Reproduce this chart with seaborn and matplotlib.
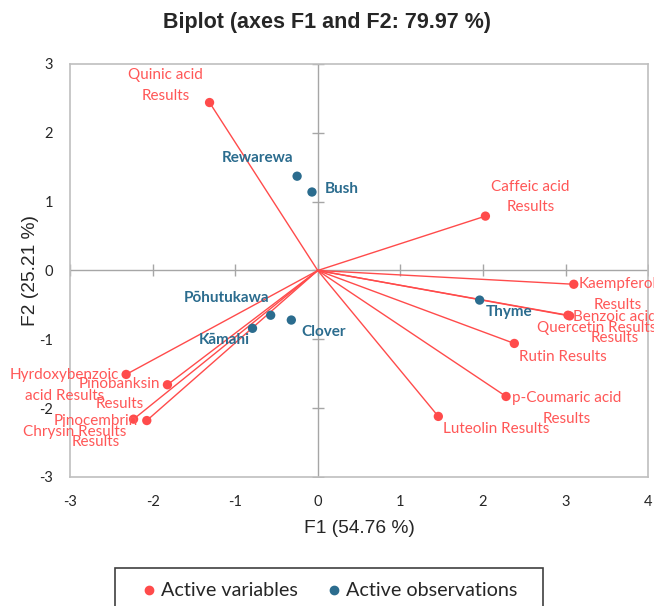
import matplotlib
matplotlib.use('Agg')
import matplotlib.pyplot as plt
import seaborn as sns
import numpy as np
import pandas as pd
from matplotlib.lines import Line2D
from matplotlib.patches import Rectangle

# Variables (loadings scaled) - F1, F2
var_names = ['Quinic acid\nResults', 'Caffeic acid\nResults', 'Kaempferol\nResults',
             'Benzoic acid\nResults', 'Quercetin Results', 'Rutin Results',
             'p-Coumaric acid\nResults', 'Luteolin Results', 'Hyrdoxybenzoic\nacid Results',
             'Pinobanksin\nResults', 'Pinocembrin\nResults', 'Chrysin Results']
var_f1 = [-1.31, 2.03, 3.10, 3.03, 3.05, 2.38, 2.28, 1.46, -2.32, -1.82, -2.23, -2.07]
var_f2 = [2.44, 0.79, -0.20, -0.65, -0.66, -1.06, -1.83, -2.12, -1.51, -1.66, -2.16, -2.18]

# Observations
obs_names = ['Rewarewa', 'Bush', 'Thyme', 'Pōhutukawa', 'Kāmahi', 'Clover']
obs_f1 = [-0.25, -0.07, 1.96, -0.57, -0.79, -0.32]
obs_f2 = [1.37, 1.14, -0.43, -0.65, -0.84, -0.72]

# label offsets in pixels (dx, dy, ha, va)
var_offsets = [(-44, 0, 'center', 'bottom'), (45, 2, 'center', 'bottom'),
               (44, 7, 'center', 'top'), (47, 5, 'center', 'top'),
               (-33, -5, 'left', 'top'), (5, -7, 'left', 'top'),
               (61, 5, 'center', 'top'), (5, -6, 'left', 'top'),
               (-62, 6, 'center', 'top'), (-48, 8, 'center', 'top'),
               (-38, 5, 'center', 'top'), (-20, -4, 'right', 'top')]
obs_offsets = [(-40, 11, 'center', 'bottom'), (13, 3, 'left', 'center'),
               (6, -5, 'left', 'top'), (-1, 10, 'right', 'bottom'),
               (-3, -5, 'right', 'top'), (10, -5, 'left', 'top')]

red = '#FF4B4B'
red_txt = '#FF5757'
blue = '#2B6C8E'
gray = '#A6A6A6'

sns.set_style('white')
plt.rcParams['font.family'] = ['Liberation Sans', 'DejaVu Sans']
plt.rcParams['axes.unicode_minus'] = False

df_var = pd.DataFrame({'F1': var_f1, 'F2': var_f2, 'name': var_names})
df_obs = pd.DataFrame({'F1': obs_f1, 'F2': obs_f2, 'name': obs_names})

fig = plt.figure(figsize=(6.54, 6.06), dpi=100)
ax = fig.add_axes([0.107, 0.2129, 0.884, 0.6815])

# vectors from origin
for x, y in zip(var_f1, var_f2):
    ax.plot([0, x], [0, y], color=red, lw=1.0, zorder=2)

ax.axhline(0, color=gray, lw=1.0, zorder=1)
ax.axvline(0, color=gray, lw=1.0, zorder=1)

sns.scatterplot(data=df_var, x='F1', y='F2', color=red, s=45, edgecolor='none', ax=ax, zorder=3)
sns.scatterplot(data=df_obs, x='F1', y='F2', color=blue, s=45, edgecolor='none', ax=ax, zorder=3)

xt = np.arange(-3, 5)
yt = np.arange(-3, 4)
ax.set_xlim(-3, 4)
ax.set_ylim(-3, 3)
ax.set_xticks(xt)
ax.set_yticks(yt)
ax.tick_params(length=0, labelsize=10.5)
ax.tick_params(axis='x', pad=13)
ax.tick_params(axis='y', pad=12)
for lab in ax.get_xticklabels() + ax.get_yticklabels():
    lab.set_family(['Lato', 'DejaVu Sans'])
# small tick marks across the zero lines
ax.plot(np.zeros(len(yt)), yt, ls='none', marker='_', ms=8, color=gray, mew=1, zorder=1)
ax.plot(xt, np.zeros(len(xt)), ls='none', marker='|', ms=8, color=gray, mew=1, zorder=1)

for s in ax.spines.values():
    s.set_color('#BFBFBF')
    s.set_linewidth(1.2)

for (x, y, n), (dx, dy, ha, va) in zip(zip(var_f1, var_f2, var_names), var_offsets):
    ax.annotate(n, (x, y), xytext=(dx * 0.72, dy * 0.72), textcoords='offset points',
                ha=ha, va=va, multialignment='center', color=red_txt, fontsize=11,
                family=['Lato', 'DejaVu Sans'], linespacing=1.58,
                annotation_clip=False, zorder=4)
for (x, y, n), (dx, dy, ha, va) in zip(zip(obs_f1, obs_f2, obs_names), obs_offsets):
    ax.annotate(n, (x, y), xytext=(dx * 0.72, dy * 0.72), textcoords='offset points',
                ha=ha, va=va, color=blue, fontsize=11, fontweight='bold',
                family=['Lato', 'DejaVu Sans'], annotation_clip=False, zorder=4)

ax.set_xlabel('F1 (54.76 %)', fontsize=13.8, labelpad=8)
ax.set_ylabel('F2 (25.21 %)', fontsize=13.8, labelpad=0)
fig.suptitle('Biplot (axes F1 and F2: 79.97 %)', fontsize=15.5, fontweight='bold', y=0.98)

# legend box (runs off the bottom edge as in the original)
fig.patches.append(Rectangle((115 / 654, -0.05), 428 / 654, 0.05 + 38 / 606,
                             transform=fig.transFigure, fill=False,
                             edgecolor='#404040', lw=1.2))
handles = [Line2D([], [], ls='none', marker='o', ms=6, color=red),
           Line2D([], [], ls='none', marker='o', ms=6, color=blue)]
fig.legend(handles, ['Active variables', 'Active observations'], ncol=2,
           loc='center', bbox_to_anchor=(0.505, 1 - 591 / 606), frameon=False,
           prop={'family': ['Lato', 'DejaVu Sans'], 'size': 14.2},
           handletextpad=0.3, columnspacing=1.55, borderpad=0.0, handlelength=0.6)

fig.savefig('out.png', dpi=100)
